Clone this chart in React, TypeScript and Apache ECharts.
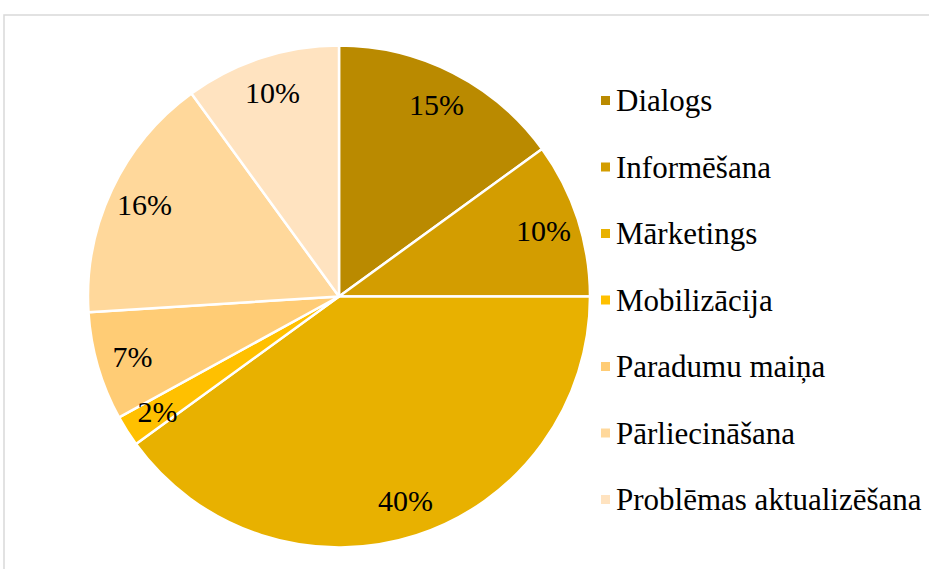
import React, { useEffect, useRef } from "react";
import * as echarts from "echarts";

const categories = [
  "Dialogs",
  "Informēšana",
  "Mārketings",
  "Mobilizācija",
  "Paradumu maiņa",
  "Pārliecināšana",
  "Problēmas aktualizēšana",
];
const values = [15, 10, 40, 2, 7, 16, 10];
const colors = ["#BA8A00", "#D39D00", "#E8B100", "#FFC000", "#FFCC75", "#FFD89B", "#FFE3C0"];

const FONT = "Liberation Serif";

export default function App() {
  const ref = useRef<HTMLDivElement>(null);
  useEffect(() => {
    if (!ref.current) return;
    const chart = echarts.init(ref.current, undefined, { renderer: "svg" });
    const data = categories.map((name, i) => ({
      name,
      value: values[i],
      itemStyle: { color: colors[i] },
    }));
    chart.setOption({
      animation: false,
      backgroundColor: "#fff",
      textStyle: { fontFamily: FONT },
      graphic: [
        {
          type: "rect",
          shape: { x: 4, y: 15, width: 1000, height: 1000 },
          style: { fill: "none", stroke: "#d9d9d9", lineWidth: 1.5 },
          silent: true,
        },
      ],
      legend: {
        orient: "vertical",
        left: 594,
        top: 80,
        itemWidth: 11,
        itemHeight: 11,
        itemGap: 35.5,
        itemTextGap: 10,
        icon: "rect",
        selectedMode: false,
        data: categories,
        textStyle: { fontFamily: FONT, fontSize: 31, lineHeight: 31, color: "#000" },
      },
      series: [
        {
          type: "pie",
          center: [339, 296.5],
          radius: [0, 251],
          startAngle: 90,
          clockwise: true,
          label: { show: false },
          labelLine: { show: false },
          itemStyle: { borderColor: "#fff", borderWidth: 2.5 },
          emphasis: { disabled: true },
          data,
        },
        {
          type: "pie",
          center: [339, 296.5],
          radius: [173, 251],
          startAngle: 90,
          clockwise: true,
          silent: true,
          legendHoverLink: false,
          label: {
            show: true,
            position: "inside",
            formatter: "{c}%",
            fontFamily: FONT,
            fontSize: 30,
            color: "#000",
          },
          labelLine: { show: false },
          itemStyle: { color: "transparent", borderWidth: 0 },
          emphasis: { disabled: true },
          data: categories.map((name, i) => ({ name: name + " ", value: values[i] })),
        },
      ],
    });
    return () => chart.dispose();
  }, []);
  return (
    <div
      ref={ref}
      style={{ position: "fixed", left: 0, top: 0, width: 929, height: 569 }}
    />
  );
}
